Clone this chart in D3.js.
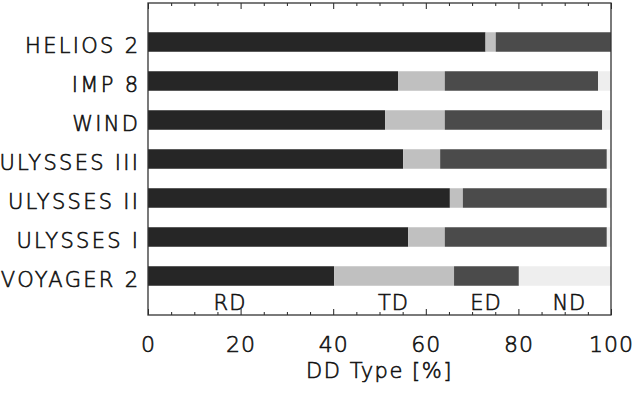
<!DOCTYPE html>
<html>
<head>
<meta charset="utf-8">
<script src="https://cdn.jsdelivr.net/npm/d3@7"></script>
<style>
  body { margin: 0; background: #fff; }
  svg text {
    font-family: "DejaVu Sans", sans-serif; font-weight: 200;
    fill: #111; stroke: #111; stroke-width: 0.6px;
  }
</style>
</head>
<body>
<div id="chart"></div>
<script>
// Spacecraft, top to bottom
const categories = ["HELIOS 2", "IMP 8", "WIND", "ULYSSES III", "ULYSSES II", "ULYSSES I", "VOYAGER 2"];

// Share of each discontinuity type (%)
const rd = [72.9, 54.0, 51.2, 55.1, 65.2, 56.2, 40.2];
const td = [2.2, 10.1, 12.9, 8.0, 2.8, 7.9, 25.9];
const ed = [24.9, 33.1, 34.0, 36.0, 31.1, 35.0, 14.0];
const nd = [0.0, 2.8, 1.9, 0.9, 0.9, 0.9, 19.9];

const types = ["RD", "TD", "ED", "ND"];
const typeLabelX = [17.7, 53, 73, 91]; // where the type names sit along the axis
const xTicks = [0, 20, 40, 60, 80, 100];

const colors = { RD: "#262626", TD: "#c0c0c0", ED: "#4b4b4b", ND: "#eeeeee" };

const W = 635, H = 394;
const margin = { top: 3, right: 24, bottom: 79, left: 148 };
const width = W - margin.left - margin.right;
const height = H - margin.top - margin.bottom;

const svg = d3.select("#chart").append("svg")
  .attr("width", W)
  .attr("height", H)
  .append("g")
  .attr("transform", `translate(${margin.left},${margin.top})`);

const x = d3.scaleLinear().domain([0, 100]).range([0, width]);
// 8 slots: 7 bars plus an empty row at the bottom for the type names
const y = d3.scaleLinear().domain([0, 8]).range([height, 0]);
const slot = i => categories.length - i;
const barH = 0.5;

// stack rows
const rows = categories.map((c, i) => ({ name: c, RD: rd[i], TD: td[i], ED: ed[i], ND: nd[i] }));
const stacked = d3.stack().keys(types)(rows);

svg.selectAll(".layer")
  .data(stacked)
  .enter()
  .append("g")
  .attr("fill", d => colors[d.key])
  .selectAll("rect")
  .data(d => d)
  .enter()
  .append("rect")
  .attr("x", d => x(d[0]))
  .attr("width", d => x(d[1]) - x(d[0]))
  .attr("y", (d, i) => y(slot(i) + barH / 2))
  .attr("height", y(0) - y(barH));

// category labels (letter-spacing adds a trailing gap, so shift right by it)
svg.selectAll(".cat")
  .data(categories)
  .enter()
  .append("text")
  .attr("x", -7.7)
  .attr("y", (d, i) => y(slot(i)) + 11)
  .attr("text-anchor", "end")
  .style("font-size", "21px")
  .style("letter-spacing", "2.3px")
  .text(d => d);

// type names in the bottom row
svg.selectAll(".type")
  .data(types)
  .enter()
  .append("text")
  .attr("x", (d, i) => x(typeLabelX[i]))
  .attr("y", height - 5)
  .attr("text-anchor", "middle")
  .style("font-size", "21px")
  .style("letter-spacing", "1px")
  .text(d => d);

// inward ticks, bottom and top
const minor = d3.range(0, 101, 5).filter(v => v % 20 !== 0);
function ticks(g, axisFn, vals, len) {
  g.call(axisFn(x).tickValues(vals).tickSize(len).tickFormat(""))
    .call(s => s.select(".domain").remove())
    .selectAll("line").attr("stroke", "#222").attr("stroke-width", 1);
}
svg.append("g").attr("transform", `translate(0,${height})`).call(ticks, d3.axisBottom, xTicks, -6);
svg.append("g").attr("transform", `translate(0,${height})`).call(ticks, d3.axisBottom, minor, -3);
svg.append("g").call(ticks, d3.axisTop, xTicks, -6);
svg.append("g").call(ticks, d3.axisTop, minor, -3);

// tick labels
svg.append("g")
  .attr("transform", `translate(0,${height})`)
  .call(d3.axisBottom(x).tickValues(xTicks).tickSize(0).tickPadding(21))
  .call(g => g.select(".domain").remove())
  .selectAll("text")
  .attr("fill", null)
  .style("font-size", "22px")
  .style("letter-spacing", "1px")
  .style("font-family", "DejaVu Sans")
  .style("font-weight", 200);

// frame
svg.append("rect")
  .attr("width", width)
  .attr("height", height)
  .attr("fill", "none")
  .attr("stroke", "#333")
  .attr("stroke-width", 1.3);

// axis title
svg.append("text")
  .attr("x", width / 2)
  .attr("y", height + 63)
  .attr("text-anchor", "middle")
  .style("font-size", "21px")
  .style("letter-spacing", "1.5px")
  .text("DD Type [%]");
</script>
</body>
</html>
